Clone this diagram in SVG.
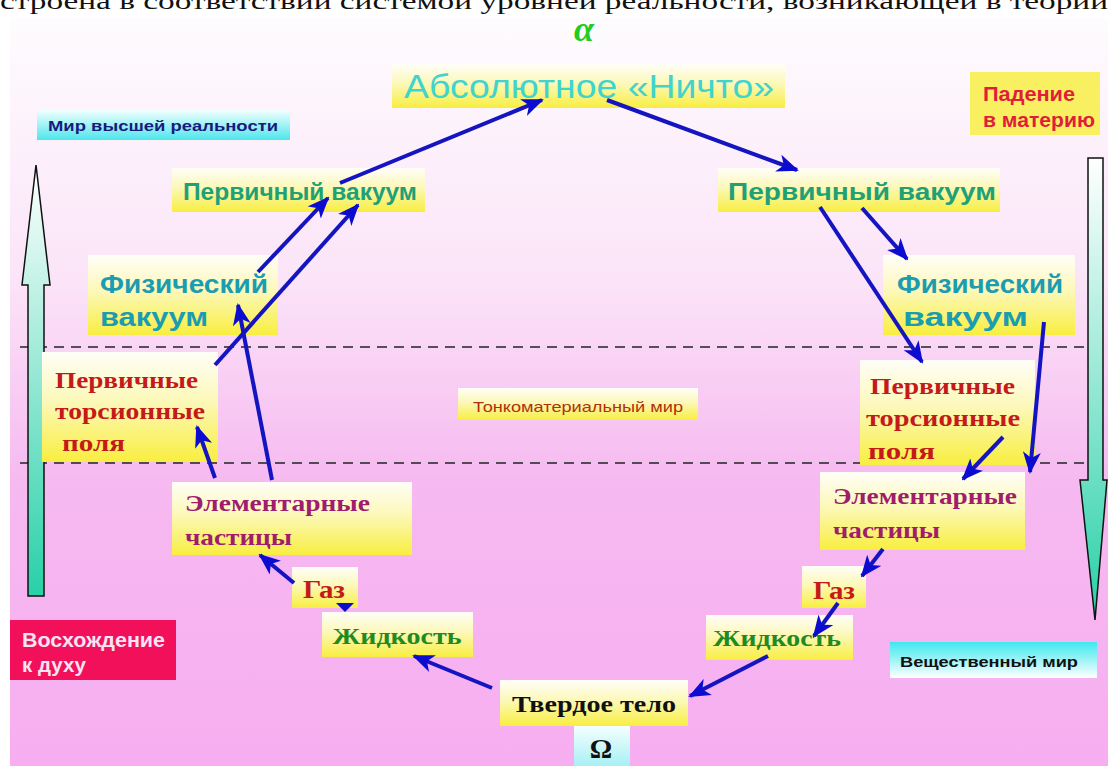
<svg xmlns="http://www.w3.org/2000/svg" width="1108" height="766" viewBox="0 0 1108 766">
<defs>
<linearGradient id="bg" x1="0" y1="0" x2="0" y2="1">
<stop offset="0" stop-color="#fefcfe"/>
<stop offset="0.35" stop-color="#fbe4f8"/>
<stop offset="0.62" stop-color="#f6b9f0"/>
<stop offset="1" stop-color="#f7aef0"/>
</linearGradient>
<linearGradient id="yel" x1="0" y1="0" x2="0" y2="1">
<stop offset="0" stop-color="#fffef8"/>
<stop offset="0.45" stop-color="#fcf8b8"/>
<stop offset="1" stop-color="#f8ee40"/>
</linearGradient>
<linearGradient id="cyanUp" x1="0" y1="0" x2="0" y2="1">
<stop offset="0" stop-color="#f2ffff"/>
<stop offset="1" stop-color="#4ee6ec"/>
</linearGradient>
<linearGradient id="cyanDown" x1="0" y1="0" x2="0" y2="1">
<stop offset="0" stop-color="#3ee8ee"/>
<stop offset="1" stop-color="#ffffff"/>
</linearGradient>
<linearGradient id="omega" x1="0" y1="0" x2="0" y2="1">
<stop offset="0" stop-color="#f4ffff"/>
<stop offset="1" stop-color="#a8f0f4"/>
</linearGradient>
<linearGradient id="arrL" x1="0" y1="0" x2="0" y2="1">
<stop offset="0" stop-color="#ffffff"/>
<stop offset="1" stop-color="#28d0a8"/>
</linearGradient>
<marker id="ah" markerUnits="userSpaceOnUse" markerWidth="22" markerHeight="18" refX="20" refY="9" orient="auto">
<path d="M0,0 L22,9 L0,18 L6,9 Z" fill="#0c0cd0"/>
</marker>
<style>
.box{fill:url(#yel)}
.conn{stroke:#1414c0;stroke-width:4;fill:none;marker-end:url(#ah)}
.sans{font-family:"Liberation Sans",Arial,sans-serif;font-weight:bold}
.serif{font-family:"Liberation Serif","Times New Roman",serif;font-weight:bold}
.teal{fill:#1b9cb0}
.green{fill:#1fa076}
.red{fill:#c41a1a}
.purple{fill:#a01c6c}
.dgreen{fill:#1f8a22}
.dash{stroke:#222;stroke-width:1.3;stroke-dasharray:10 7}
</style>
</defs>

<rect x="0" y="0" width="1108" height="766" fill="#ffffff"/>
<rect x="10" y="18" width="1098" height="748" fill="url(#bg)"/>
<text x="0" y="9" font-family="Liberation Serif, serif" font-size="24" fill="#111" textLength="1108" lengthAdjust="spacingAndGlyphs">строена в соответствии системой уровней  реальности, возникающей в теории</text>

<g id="alpha"><text x="584" y="41" text-anchor="middle" font-family="Liberation Serif, serif" font-style="italic" font-weight="bold" font-size="36" fill="#22cc22">α</text></g>

<g id="dashes">
<line class="dash" x1="20" y1="347" x2="1100" y2="347"/>
<line class="dash" x1="20" y1="463" x2="1100" y2="463"/>
</g>

<g id="ascent-arrow">
<path d="M36,165 L50,285 L44,285 L44,596 L28,596 L28,285 L22,285 Z" fill="url(#arrL)" stroke="#111" stroke-width="1.5"/>
</g>
<g id="descent-arrow">
<path d="M1088,158 L1103,158 L1103,480 L1107,480 L1095,620 L1080,480 L1088,480 Z" fill="url(#arrL)" stroke="#111" stroke-width="1.5"/>
</g>

<g id="absolute">
<rect class="box" x="392" y="64" width="393" height="44"/>
<text x="589" y="98" text-anchor="middle" font-family="Liberation Sans, Arial, sans-serif" font-size="33" fill="#40d4cc" textLength="370" lengthAdjust="spacingAndGlyphs">Абсолютное «Ничто»</text>
</g>

<g id="higher-world">
<rect x="37" y="110" width="253" height="30" fill="url(#cyanUp)"/>
<text x="163" y="131" text-anchor="middle" class="sans" font-size="15" fill="#1a1a7e" textLength="230" lengthAdjust="spacingAndGlyphs">Мир высшей реальности</text>
</g>

<g id="fall">
<rect x="970" y="72" width="130" height="63" fill="#f8f060"/>
<text class="sans" font-size="20" fill="#e01e3a"><tspan x="983" y="101" textLength="92" lengthAdjust="spacingAndGlyphs">Падение</tspan><tspan x="983" y="127" textLength="112" lengthAdjust="spacingAndGlyphs">в материю</tspan></text>
</g>

<g id="vacuum-left">
<rect class="box" x="172" y="168" width="253" height="44"/>
<text x="300" y="200" text-anchor="middle" class="sans green" font-size="23" textLength="234" lengthAdjust="spacingAndGlyphs">Первичный вакуум</text>
</g>
<g id="vacuum-right">
<rect class="box" x="718" y="168" width="282" height="44"/>
<text x="862" y="200" text-anchor="middle" class="sans green" font-size="23" textLength="268" lengthAdjust="spacingAndGlyphs">Первичный вакуум</text>
</g>

<g id="phys-left">
<rect class="box" x="88" y="255" width="190" height="80"/>
<text class="sans teal" font-size="25"><tspan x="100" y="293" textLength="168" lengthAdjust="spacingAndGlyphs">Физический</tspan><tspan x="100" y="326" textLength="108" lengthAdjust="spacingAndGlyphs">вакуум</tspan></text>
</g>
<g id="phys-right">
<rect class="box" x="883" y="255" width="192" height="80"/>
<text class="sans teal" font-size="25"><tspan x="897" y="293" textLength="166" lengthAdjust="spacingAndGlyphs">Физический</tspan><tspan x="903" y="326" textLength="125" lengthAdjust="spacingAndGlyphs">вакуум</tspan></text>
</g>

<g id="torsion-left">
<rect class="box" x="42" y="352" width="176" height="110"/>
<text class="serif red" font-size="24"><tspan x="55" y="388" textLength="143" lengthAdjust="spacingAndGlyphs">Первичные</tspan><tspan x="55" y="419" textLength="150" lengthAdjust="spacingAndGlyphs">торсионные</tspan><tspan x="62" y="451" textLength="63" lengthAdjust="spacingAndGlyphs">поля</tspan></text>
</g>
<g id="torsion-right">
<rect class="box" x="860" y="360" width="175" height="105"/>
<text class="serif red" font-size="24"><tspan x="870" y="394" textLength="145" lengthAdjust="spacingAndGlyphs">Первичные</tspan><tspan x="866" y="426" textLength="154" lengthAdjust="spacingAndGlyphs">торсионные</tspan><tspan x="868" y="459" textLength="67" lengthAdjust="spacingAndGlyphs">поля</tspan></text>
</g>

<g id="subtle-world">
<rect class="box" x="458" y="388" width="240" height="32"/>
<text x="578" y="412" text-anchor="middle" font-family="Liberation Sans, Arial, sans-serif" font-size="15" fill="#b03010" textLength="210" lengthAdjust="spacingAndGlyphs">Тонкоматериальный мир</text>
</g>

<g id="particles-left">
<rect class="box" x="172" y="482" width="240" height="73"/>
<text class="serif purple" font-size="24"><tspan x="185" y="511" textLength="185" lengthAdjust="spacingAndGlyphs">Элементарные</tspan><tspan x="185" y="545" textLength="107" lengthAdjust="spacingAndGlyphs">частицы</tspan></text>
</g>
<g id="particles-right">
<rect class="box" x="820" y="472" width="205" height="78"/>
<text class="serif purple" font-size="24"><tspan x="833" y="504" textLength="184" lengthAdjust="spacingAndGlyphs">Элементарные</tspan><tspan x="833" y="538" textLength="107" lengthAdjust="spacingAndGlyphs">частицы</tspan></text>
</g>

<g id="gas-left">
<rect class="box" x="292" y="567" width="66" height="41"/>
<text x="324" y="598" text-anchor="middle" class="serif red" font-size="25" textLength="42" lengthAdjust="spacingAndGlyphs">Газ</text>
</g>
<g id="gas-right">
<rect class="box" x="802" y="566" width="64" height="42"/>
<text x="834" y="599" text-anchor="middle" class="serif red" font-size="25" textLength="42" lengthAdjust="spacingAndGlyphs">Газ</text>
</g>

<g id="liquid-left">
<rect class="box" x="322" y="612" width="151" height="45"/>
<text x="397" y="644" text-anchor="middle" class="serif dgreen" font-size="23" textLength="129" lengthAdjust="spacingAndGlyphs">Жидкость</text>
</g>
<g id="liquid-right">
<rect class="box" x="706" y="615" width="147" height="45"/>
<text x="777" y="646" text-anchor="middle" class="serif dgreen" font-size="23" textLength="128" lengthAdjust="spacingAndGlyphs">Жидкость</text>
</g>

<g id="solid">
<rect class="box" x="500" y="680" width="188" height="46"/>
<text x="594" y="712" text-anchor="middle" class="serif" font-size="24" fill="#111" textLength="164" lengthAdjust="spacingAndGlyphs">Твердое тело</text>
</g>
<g id="omega-node">
<rect x="574" y="726" width="56" height="40" fill="url(#omega)"/>
<text x="601" y="758" text-anchor="middle" class="serif" font-size="28" fill="#111">Ω</text>
</g>

<g id="ascent-label">
<rect x="10" y="620" width="166" height="60" fill="#f2105a"/>
<text class="sans" font-size="20" fill="#f8e4f2"><tspan x="22" y="647" textLength="143" lengthAdjust="spacingAndGlyphs">Восхождение</tspan><tspan x="22" y="672" textLength="64" lengthAdjust="spacingAndGlyphs">к духу</tspan></text>
</g>

<g id="material-world">
<rect x="890" y="642" width="207" height="36" fill="url(#cyanDown)"/>
<text x="989" y="667" text-anchor="middle" class="sans" font-size="15" fill="#111" textLength="178" lengthAdjust="spacingAndGlyphs">Вещественный мир</text>
</g>

<g id="connectors">
<line class="conn" x1="340" y1="183" x2="542" y2="100"/>
<line class="conn" x1="258" y1="272" x2="328" y2="198"/>
<line class="conn" x1="215" y1="365" x2="358" y2="205"/>
<line class="conn" x1="272" y1="480" x2="238" y2="305"/>
<line class="conn" x1="215" y1="478" x2="197" y2="427"/>
<line class="conn" x1="294" y1="583" x2="260" y2="555"/>
<path d="M336,603 L354,603 L345,612 Z" fill="#0c0cd0"/>
<line class="conn" x1="492" y1="688" x2="414" y2="656"/>
<line class="conn" x1="607" y1="100" x2="797" y2="170"/>
<line class="conn" x1="820" y1="207" x2="922" y2="362"/>
<line class="conn" x1="862" y1="208" x2="907" y2="259"/>
<line class="conn" x1="1044" y1="322" x2="1030" y2="472"/>
<line class="conn" x1="1003" y1="437" x2="963" y2="479"/>
<line class="conn" x1="883" y1="549" x2="862" y2="576"/>
<line class="conn" x1="838" y1="603" x2="814" y2="636"/>
<line class="conn" x1="768" y1="656" x2="690" y2="696"/>
</g>
</svg>
